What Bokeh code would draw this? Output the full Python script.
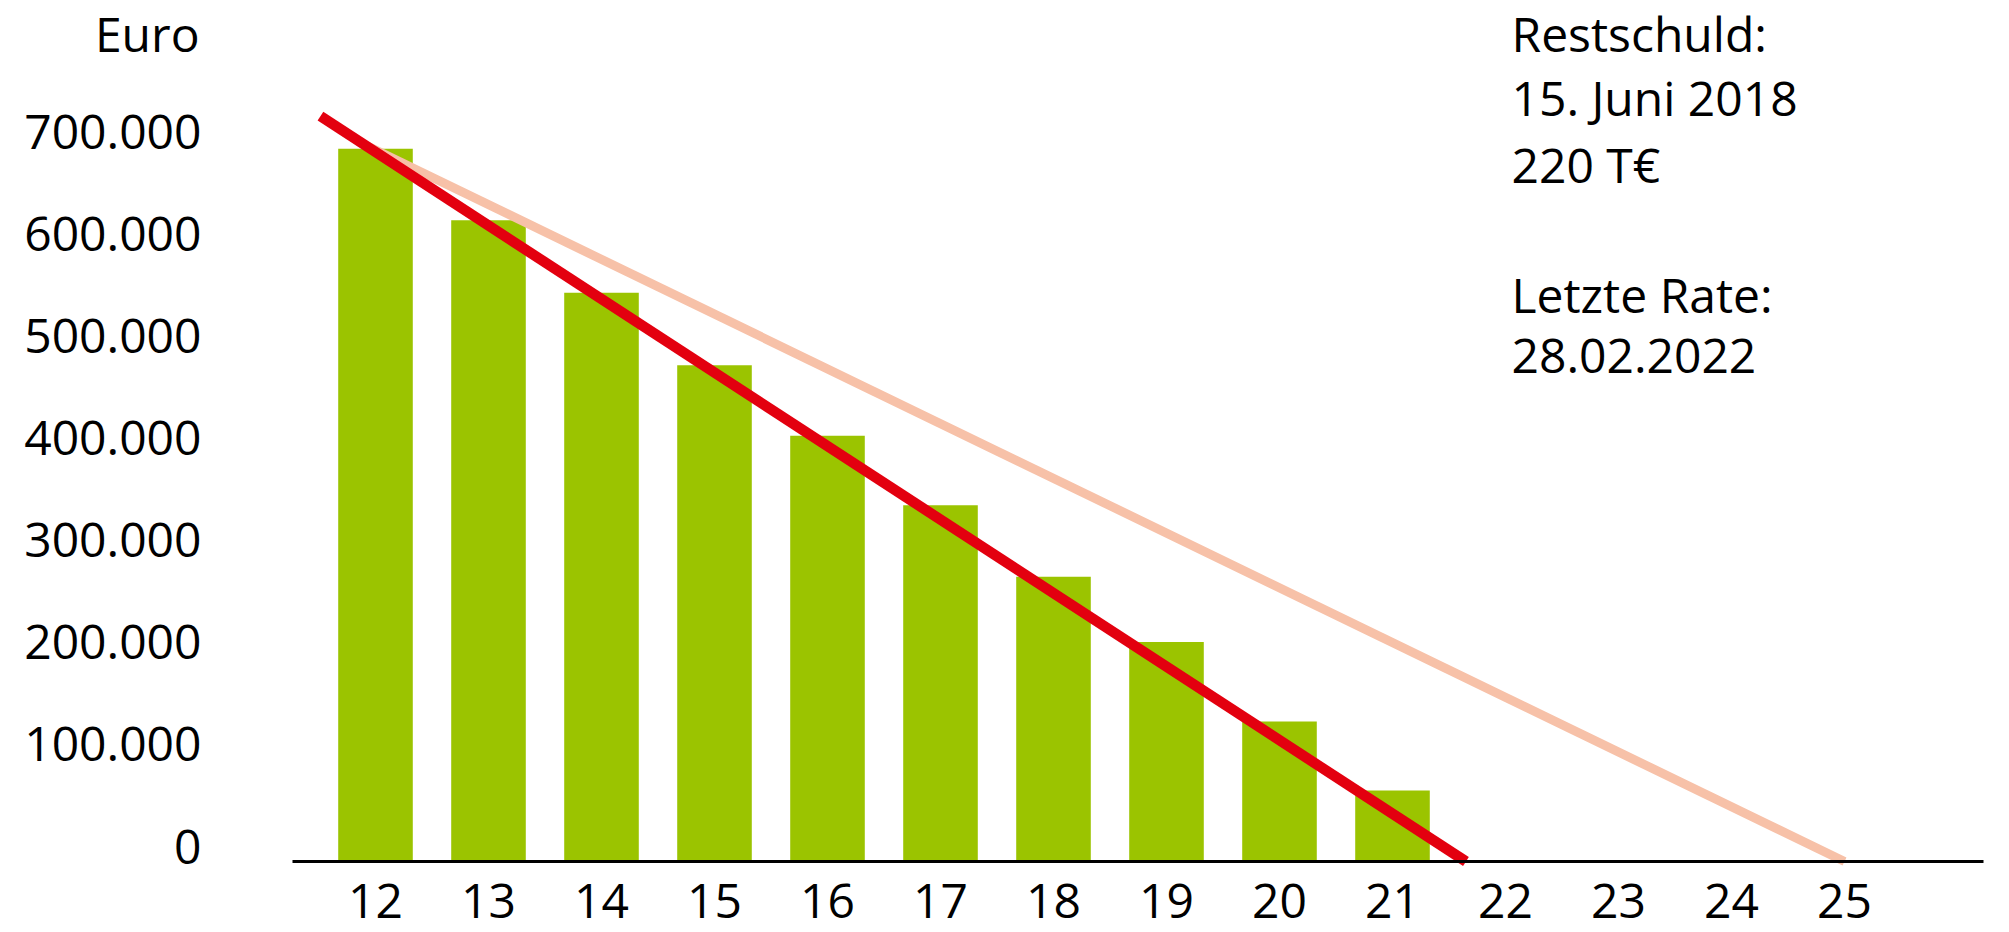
from bokeh.plotting import figure
from bokeh.models import Range1d, LinearAxis, FixedTicker, CustomJSTickFormatter, Label
from bokeh.embed import file_html
from bokeh.resources import INLINE

# ---- data ----
years = [12, 13, 14, 15, 16, 17, 18, 19, 20, 21, 22, 23, 24, 25]
bar_years = [12, 13, 14, 15, 16, 17, 18, 19, 20, 21]
restschuld = [698000, 628000, 557000, 486000, 417000, 349000, 279000, 215000, 137000, 69500]
y_ticks = [0, 100000, 200000, 300000, 400000, 500000, 600000, 700000]
new_plan_x = [11.513, 21.65]
new_plan_y = [730000, 0]
old_plan_x = [11.85, 25.0]
old_plan_y = [705000, 0]
info_lines = ["Restschuld:", "15. Juni 2018", "220 T€", "Letzte Rate:", "28.02.2022"]
unit_label = "Euro"

# ---- layout constants (pixels) ----
W, H = 2009, 932
PX_PER_CAT = 113.0
X12_PX = 375.0
ZERO_PX = 861.0
PX_PER_100K = 102.1
LABEL_LIFT_PX = 15.0
FONT = "Open Sans"
FS = "48px"

def px2x(px):
    return 12 + (px - X12_PX) / PX_PER_CAT

def py2y(py):
    return (ZERO_PX - py) / PX_PER_100K * 100000

y0, y1 = py2y(H), py2y(0)
p = figure(width=W, height=H, output_backend="svg", toolbar_location=None,
           x_axis_type=None, y_axis_type=None, title=None,
           x_range=Range1d(px2x(0), px2x(W)), y_range=Range1d(y0, y1))
lift = LABEL_LIFT_PX / PX_PER_100K * 100000
p.extra_y_ranges = {"labels": Range1d(y0 - lift, y1 - lift)}
p.min_border = 0
p.min_border_left = 0
p.min_border_right = 0
p.min_border_top = 0
p.min_border_bottom = 0
p.outline_line_color = None
p.background_fill_color = "white"
p.border_fill_color = "white"

GREEN = "#9BC400"
RED = "#E3000F"
SALMON = "#F7C1A8"

p.vbar(x=bar_years, top=restschuld, bottom=0, width=0.66, color=GREEN, line_color=None)
p.line(old_plan_x, old_plan_y, line_color=SALMON, line_width=9)
p.line(new_plan_x, new_plan_y, line_color=RED, line_width=10.5)

axis_left_x = px2x(292)
axis_right_x = px2x(1983)

xaxis = LinearAxis(fixed_location=0, ticker=FixedTicker(ticks=years),
                   bounds=(axis_left_x, axis_right_x))
xaxis.axis_line_color = "black"
xaxis.axis_line_width = 3
xaxis.major_tick_in = 0
xaxis.major_tick_out = 0
xaxis.minor_tick_in = 0
xaxis.minor_tick_out = 0
xaxis.major_label_standoff = 22
xaxis.major_label_text_font = FONT
xaxis.major_label_text_font_size = FS
xaxis.major_label_text_color = "black"
p.add_layout(xaxis, "below")

fmt = CustomJSTickFormatter(code="return String(Math.round(tick)).replace(/\\B(?=(\\d{3})+(?!\\d))/g, '.');")
yaxis = LinearAxis(fixed_location=axis_left_x, y_range_name="labels",
                   ticker=FixedTicker(ticks=y_ticks), formatter=fmt)
yaxis.axis_line_color = None
yaxis.major_tick_in = 0
yaxis.major_tick_out = 0
yaxis.minor_tick_in = 0
yaxis.minor_tick_out = 0
yaxis.major_label_standoff = 91
yaxis.major_label_text_font = FONT
yaxis.major_label_text_font_size = FS
yaxis.major_label_text_color = "black"
p.add_layout(yaxis, "left")

p.add_layout(Label(x=px2x(199), y=py2y(33), text=unit_label, text_align="right",
                   text_baseline="middle", text_font=FONT, text_font_size=FS,
                   text_color="black"))

info_centers = [33, 97, 164, 294, 355]
for txt, c in zip(info_lines, info_centers):
    p.add_layout(Label(x=px2x(1511), y=py2y(c), text=txt, text_align="left",
                       text_baseline="middle", text_font=FONT, text_font_size=FS,
                       text_color="black"))

open("out.html", "w").write(file_html(p, INLINE))
